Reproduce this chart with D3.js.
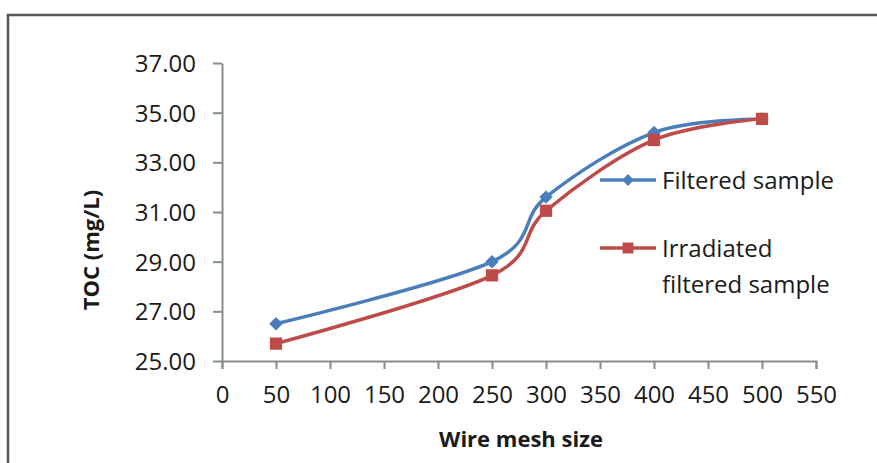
<!DOCTYPE html>
<html>
<head>
<meta charset="utf-8">
<script src="https://cdn.jsdelivr.net/npm/d3@7"></script>
<style>
  body { margin: 0; background: #fff; }
  text { font-family: "Open Sans", sans-serif; fill: #1a1a1a; }
</style>
</head>
<body>
<div id="container"></div>
<script>
/* DATA */
const meshSizes = [50, 250, 300, 400, 500];
const filtered = [26.5, 29.0, 31.6, 34.2, 34.75];
const irradiated = [25.7, 28.45, 31.05, 33.9, 34.75];
const xTicks = [0, 50, 100, 150, 200, 250, 300, 350, 400, 450, 500, 550];
const yTicks = [25, 27, 29, 31, 33, 35, 37];
const seriesNames = ["Filtered sample", "Irradiated filtered sample"];

/* CONSTANTS */
const width = 877, height = 463;
const margin = { top: 63, bottom: 102, left: 222, right: 61 };
const blue = "#4a7ebb", red = "#be4b48";

const svg = d3.select("#container")
  .append("svg")
  .attr("width", width)
  .attr("height", height);

// outer frame
svg.append("rect")
  .attr("x", 8).attr("y", 15)
  .attr("width", width + 20).attr("height", height + 20)
  .attr("fill", "none")
  .attr("stroke", "#555")
  .attr("stroke-width", 2.5);

/* SCALES */
const xScale = d3.scaleLinear()
  .domain([0, 550])
  .range([margin.left, width - margin.right]);

const yScale = d3.scaleLinear()
  .domain([25, 37])
  .range([height - margin.bottom, margin.top]);

/* AXES */
const xAxis = d3.axisBottom(xScale)
  .tickValues(xTicks)
  .tickFormat(d3.format("d"))
  .tickSizeInner(8)
  .tickSizeOuter(8)
  .tickPadding(17);

const yAxis = d3.axisLeft(yScale)
  .tickValues(yTicks)
  .tickFormat(d3.format(".2f"))
  .tickSizeInner(9)
  .tickSizeOuter(0)
  .tickPadding(17);

svg.append("g")
  .attr("transform", `translate(0,${height - margin.bottom})`)
  .call(xAxis)
  .call(g => g.selectAll("line, path").attr("stroke", "#8c8c8c").attr("stroke-width", 2))
  .call(g => g.selectAll("text").attr("font-size", 24).attr("fill", "#1a1a1a")
    .style("font-family", "Open Sans, sans-serif"));

svg.append("g")
  .attr("transform", `translate(${margin.left},0)`)
  .call(yAxis)
  .call(g => g.selectAll("line, path").attr("stroke", "#8c8c8c").attr("stroke-width", 2))
  .call(g => g.selectAll("text").attr("font-size", 24).attr("fill", "#1a1a1a")
    .attr("dy", "0.36em")
    .style("font-family", "Open Sans, sans-serif"));

// axis titles
svg.append("text")
  .attr("x", 521).attr("y", 447)
  .attr("text-anchor", "middle")
  .attr("font-size", 22)
  .attr("font-weight", "bold")
  .text("Wire mesh size");

svg.append("text")
  .attr("transform", "translate(99,250) rotate(-90)")
  .attr("text-anchor", "middle")
  .attr("font-size", 22)
  .attr("font-weight", "bold")
  .text("TOC (mg/L)");

/* LINES */
const line = d3.line()
  .x(d => xScale(d[0]))
  .y(d => yScale(d[1]))
  .curve(d3.curveCardinal.tension(0));

const series = [
  { name: seriesNames[0], color: blue, diamond: true, values: meshSizes.map((m, i) => [m, filtered[i]]) },
  { name: seriesNames[1], color: red, diamond: false, values: meshSizes.map((m, i) => [m, irradiated[i]]) }
];

const marker = (s, size) => d3.symbol().type(d3.symbolSquare).size(s.diamond ? size * 0.6 : size);

series.forEach(s => {
  svg.append("path")
    .datum(s.values)
    .attr("d", line)
    .attr("fill", "none")
    .attr("stroke", s.color)
    .attr("stroke-width", 3.5);
});

series.forEach(s => {
  svg.selectAll(null)
    .data(s.values)
    .join("path")
    .attr("transform", d => `translate(${xScale(d[0])},${yScale(d[1])}) rotate(${s.diamond ? 45 : 0})`)
    .attr("d", marker(s, 150))
    .attr("fill", s.color);
});

/* LEGEND */
const legendY = [180, 248];
series.forEach((s, i) => {
  const g = svg.append("g").attr("transform", `translate(600,${legendY[i]})`);
  g.append("line")
    .attr("x1", 0).attr("x2", 56)
    .attr("stroke", s.color)
    .attr("stroke-width", 3.5);
  g.append("path")
    .attr("transform", `translate(28,0) rotate(${s.diamond ? 45 : 0})`)
    .attr("d", marker(s, 120))
    .attr("fill", s.color);
  const t = g.append("text")
    .attr("x", 62)
    .attr("dy", "0.36em")
    .attr("font-size", 24);
  if (i === 0) {
    t.text(s.name);
  } else {
    t.append("tspan").attr("x", 62).text("Irradiated");
    t.append("tspan").attr("x", 62).attr("dy", "1.5em").text("filtered sample");
  }
});
</script>
</body>
</html>
